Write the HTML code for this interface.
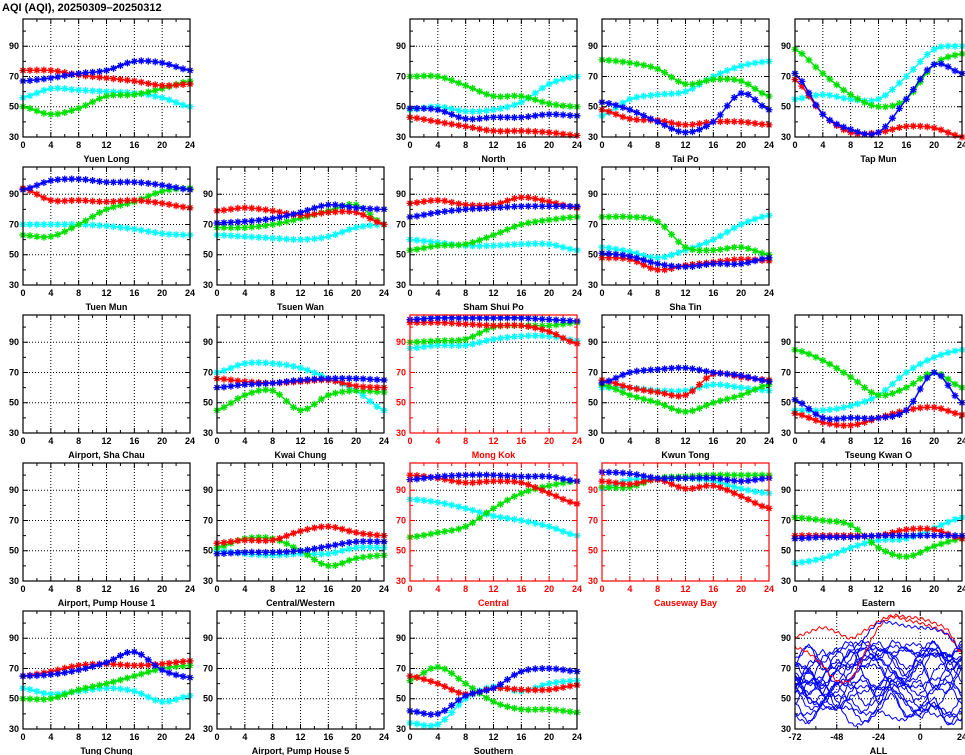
<!DOCTYPE html>
<html><head><meta charset="utf-8"><style>
body{margin:0;background:#fff;}
svg{display:block;font-family:"Liberation Sans",sans-serif;font-weight:bold;}
</style></head><body>
<svg id="s" width="965" height="755" xmlns="http://www.w3.org/2000/svg">
<text x="2" y="11" font-size="11" fill="#000">AQI (AQI), 20250309–20250312</text>
</svg>
<script>
const S=document.getElementById('s');const NS='http://www.w3.org/2000/svg';
function el(t,a,txt){const e=document.createElementNS(NS,t);for(const k in a)e.setAttribute(k,a[k]);if(txt!==undefined)e.textContent=txt;S.appendChild(e);return e;}
const C={B:'#0000ff',R:'#ff0000',G:'#00e000',Cy:'#00ffff'};
const P=[
[0,0,'Yuen Long',0,{Cy:[56,62,61,60,59,56,50],G:[50,45,49,57,58,62,67],R:[74,74,71,69,67,64,65],B:[67,69,72,74,80,79,74]}],
[0,2,'North',0,{Cy:[48,50,47,48,53,65,70],G:[70,70,64,57,57,52,50],R:[43,40,37,34,34,33,31],B:[49,48,42,43,43,45,44]}],
[0,3,'Tai Po',0,{Cy:[44,55,58,60,70,77,80],G:[81,79,75,65,68,67,57],R:[48,42,41,38,40,40,38],B:[53,48,40,33,40,59,48]}],
[0,4,'Tap Mun',0,{Cy:[55,58,55,55,70,88,90],G:[88,72,58,50,55,78,85],R:[68,45,33,33,37,36,30],B:[72,45,35,33,55,78,72]}],
[1,0,'Tuen Mun',0,{Cy:[70,70,70,69,67,64,63],G:[63,62,70,80,85,92,94],R:[94,86,86,85,86,84,81],B:[93,99,100,98,98,96,93]}],
[1,1,'Tsuen Wan',0,{Cy:[63,62,61,60,62,68,70],G:[68,68,70,74,79,83,70],R:[79,81,79,76,78,78,70],B:[71,72,74,78,83,81,80]}],
[1,2,'Sham Shui Po',0,{Cy:[60,58,56,56,57,57,53],G:[53,56,57,63,70,73,75],R:[84,86,83,83,88,85,81],B:[75,78,80,81,82,82,82]}],
[1,3,'Sha Tin',0,{Cy:[55,52,48,53,60,70,76],G:[75,75,72,55,53,55,50],R:[48,47,40,43,45,47,46],B:[51,49,44,42,44,44,48]}],
[2,0,'Airport, Sha Chau',0,null],
[2,1,'Kwai Chung',0,{Cy:[70,76,76,73,66,58,45],G:[45,55,58,45,55,58,57],R:[66,64,63,64,65,61,60],B:[60,62,63,65,66,66,65]}],
[2,2,'Mong Kok',1,{Cy:[86,88,88,92,94,94,91],G:[90,91,92,100,101,101,103],R:[103,103,102,101,101,97,89],B:[105,106,106,106,106,105,104]}],
[2,3,'Kwun Tong',0,{Cy:[60,60,58,58,62,60,58],G:[62,55,50,44,50,55,62],R:[65,60,57,55,69,67,65],B:[63,70,72,73,70,68,64]}],
[2,4,'Tseung Kwan O',0,{Cy:[45,45,48,55,70,80,85],G:[85,78,67,55,60,70,60],R:[43,37,35,40,45,47,42],B:[52,40,40,40,45,70,50]}],
[3,0,'Airport, Pump House 1',0,null],
[3,1,'Central/Western',0,{Cy:[50,48,47,48,48,52,52],G:[52,58,58,50,40,45,47],R:[55,57,57,63,66,62,60],B:[48,49,49,50,53,56,56]}],
[3,2,'Central',1,{Cy:[84,82,78,73,70,66,60],G:[59,62,66,78,88,93,96],R:[100,98,95,96,95,88,81],B:[97,99,100,100,99,99,96]}],
[3,3,'Causeway Bay',1,{Cy:[91,97,97,98,96,91,88],G:[92,92,98,99,100,100,100],R:[96,94,97,91,93,86,78],B:[102,101,98,98,98,96,98]}],
[3,4,'Eastern',0,{Cy:[42,45,52,57,58,65,72],G:[72,70,67,52,46,53,58],R:[60,60,60,60,64,64,58],B:[58,59,59,60,60,60,60]}],
[4,0,'Tung Chung',0,{Cy:[57,53,55,57,55,48,52],G:[50,50,56,60,65,70,72],R:[65,68,72,73,72,73,75],B:[65,66,69,74,81,69,64]}],
[4,1,'Airport, Pump House 5',0,null],
[4,2,'Southern',0,{Cy:[34,33,50,58,55,60,62],G:[62,71,60,48,43,43,41],R:[65,60,53,57,56,56,59],B:[42,40,52,57,68,70,68]}],
[4,4,'ALL',0,'ALL']];
const X0=[23,217,410,602,795],Y0=[19,167,315,463,611],W=167,H=118,YMIN=30,YMAX=108;
function cr(pts,t){const n=pts.length-1;let i=Math.min(Math.floor(t),n-1);const f=t-i;
const p0=pts[Math.max(i-1,0)],p1=pts[i],p2=pts[i+1],p3=pts[Math.min(i+2,n)];
return 0.5*((2*p1)+(-p0+p2)*f+(2*p0-5*p1+4*p2-p3)*f*f+(-p0+3*p1-3*p2+p3)*f*f*f);}
function star(x,y,c){let d='';for(let k=0;k<4;k++){const a=k*Math.PI/4;const dx=3.5*Math.cos(a),dy=3.5*Math.sin(a);d+=`M${x-dx} ${y-dy}L${x+dx} ${y+dy}`;}el('path',{d:d,stroke:c,'stroke-width':1.3,fill:'none'});}
let seed=11;function rnd(){seed=(seed*16807)%2147483647;return seed/2147483647;}
for(const [r,c,name,red,data] of P){
 const x0=X0[c],y0=Y0[r],fc=red?'#ff0000':'#000';
 const all=data==='ALL';const xmin=all?-72:0,xmax=24;
 const sx=v=>x0+(v-xmin)/(xmax-xmin)*W, sy=v=>y0+H-(v-YMIN)/(YMAX-YMIN)*H;
 const xt=all?[-72,-48,-24,0,24]:[0,4,8,12,16,20,24];
 for(const v of xt.slice(1,-1))el('line',{x1:sx(v),x2:sx(v),y1:y0,y2:y0+H,stroke:'#000','stroke-dasharray':'1,2','stroke-width':1});
 for(const v of [50,70,90])el('line',{x1:x0,x2:x0+W,y1:sy(v),y2:sy(v),stroke:'#000','stroke-dasharray':'1,2','stroke-width':1});
 const minor=all?12:2;
 for(let v=xmin;v<=xmax;v+=minor){const L=(all?(v%24==0):(v%4==0))?5:3;el('line',{x1:sx(v),x2:sx(v),y1:y0+H,y2:y0+H-L,stroke:fc});el('line',{x1:sx(v),x2:sx(v),y1:y0,y2:y0+L,stroke:fc});}
 for(let v=30;v<=100;v+=10){const L=(v%20==10)?5:3;el('line',{x1:x0,x2:x0+L,y1:sy(v),y2:sy(v),stroke:fc});el('line',{x1:x0+W,x2:x0+W-L,y1:sy(v),y2:sy(v),stroke:fc});}
 for(const v of xt)el('text',{x:sx(v),y:y0+H+11,'font-size':9,'text-anchor':'middle',fill:fc},v);
 for(const v of [30,50,70,90])el('text',{x:x0-4,y:sy(v)+3,'font-size':9,'text-anchor':'end',fill:fc},v);
 el('text',{x:x0+W/2,y:y0+H+25,'font-size':9,'text-anchor':'middle',fill:fc},name);
 if(data&&!all){
  for(const k of ['Cy','G','R','B']){const pts=data[k];const col=C[k];let d='';const ps=[];
   for(let h=0;h<=24;h++){const v=Math.min(cr(pts,h/4),106.5);ps.push([sx(h),sy(v)]);d+=(h?'L':'M')+sx(h).toFixed(1)+' '+sy(v).toFixed(1);}
   el('path',{d:d,stroke:col,'stroke-width':1.5,fill:'none'});for(const [px,py] of ps)star(px,py,col);}
 }
 if(all){
  const lines=[];
  for(let i=0;i<20;i++){const n=13;const pts=[];let v=40+rnd()*35;for(let j=0;j<n;j++){v+=(rnd()-0.5)*36;if(v>88)v=176-v;if(v<33)v=66-v;pts.push(v);}lines.push(['#0000ff',pts]);}
  lines.push(['#ff0000',[91,94,97,94,90,95,101,105,104,103,100,95,80]]);
  lines.push(['#ff0000',[84,80,72,62,63,80,97,104,102,100,97,92,80]]);
  lines.push(['#0000ff',[60,62,65,75,70,90,100,100,98,97,96,92,81]]);
  for(const [col,pts] of lines){let d='';for(let h=0;h<=96;h++){const v=Math.max(31,Math.min(106,cr(pts,h/8)+Math.sin(h*1.7+pts[0])*1.0));d+=(h?'L':'M')+sx(h-72).toFixed(1)+' '+sy(v).toFixed(1);}
   el('path',{d:d,stroke:col,'stroke-width':1,fill:'none'});}
 }
 el('rect',{x:x0,y:y0,width:W,height:H,fill:'none',stroke:fc,'stroke-width':1.2});
}
</script>
</body></html>
